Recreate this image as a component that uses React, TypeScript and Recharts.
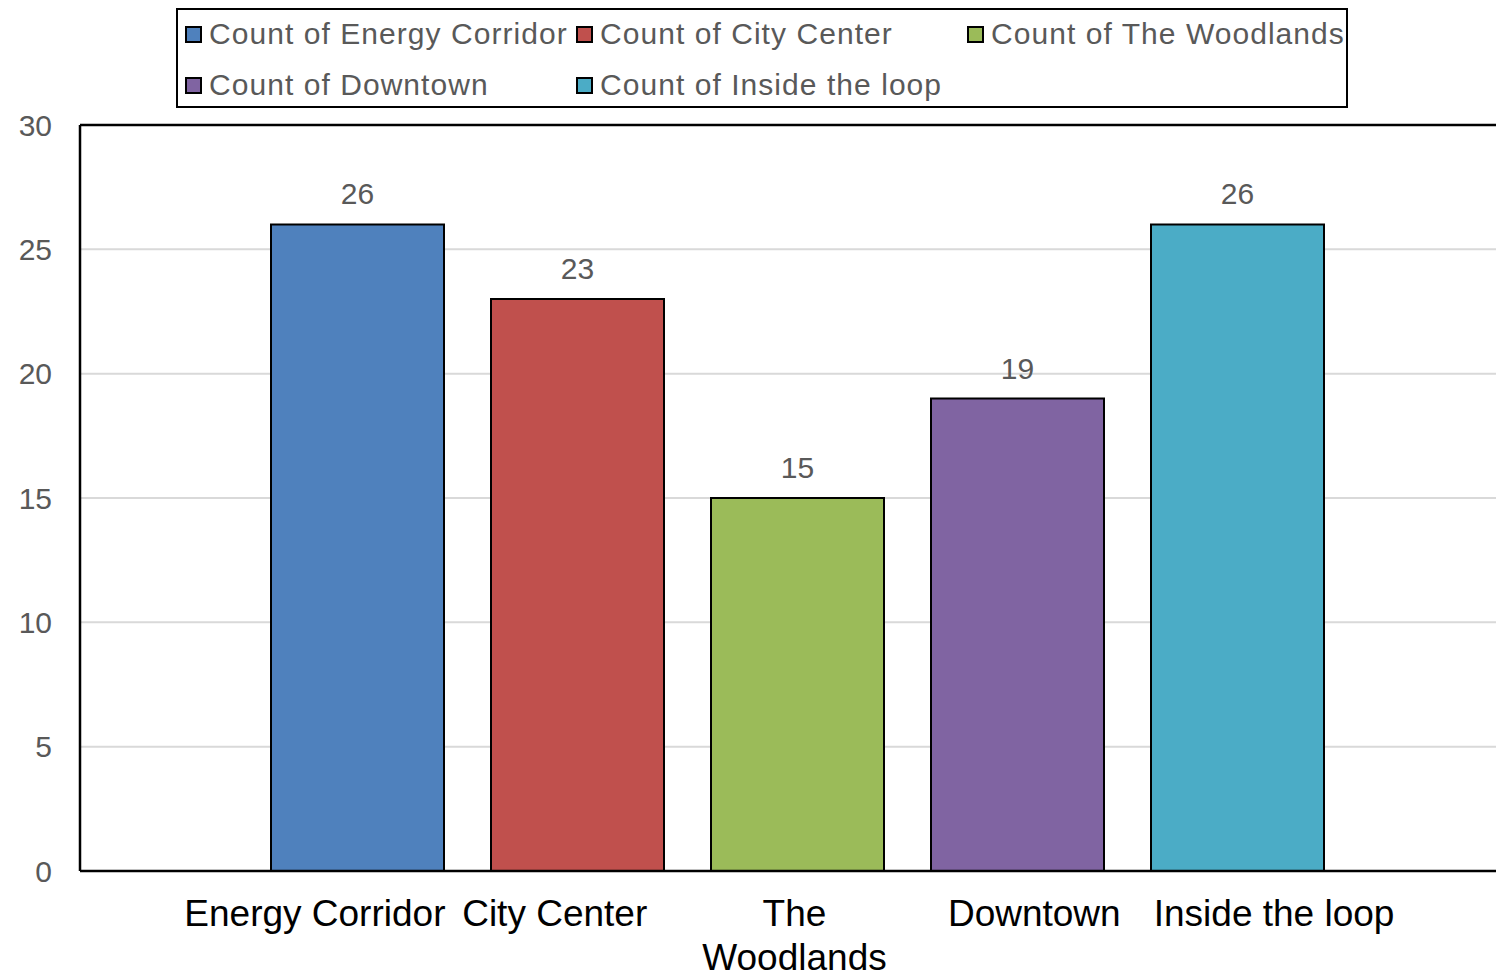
import { Bar, BarChart, CartesianGrid, Cell, LabelList, ReferenceLine, XAxis, YAxis } from "recharts";

const categories = ["Energy Corridor", "City Center", "The Woodlands", "Downtown", "Inside the loop"];
const counts = [26, 23, 15, 19, 26];
const seriesNames = [
  "Count of Energy Corridor",
  "Count of City Center",
  "Count of The Woodlands",
  "Count of Downtown",
  "Count of Inside the loop"
];
const colors = ["#4f81bd", "#c0504d", "#9bbb59", "#8064a2", "#4bacc6"];
const yTicks = [0, 5, 10, 15, 20, 25, 30];
// how each category label wraps under the axis
const tickLabelLines = [["Energy Corridor"], ["City Center"], ["The", "Woodlands"], ["Downtown"], ["Inside the loop"]];

const data = categories.map((name, i) => ({ name, count: counts[i] }));

const FONT = "'Liberation Sans', Arial, sans-serif";
const GRAY = "#595959";

function CategoryTick({ x, y, payload }: { x: number; y: number; payload: { value: string } }) {
  const idx = categories.indexOf(payload.value);
  const lines = tickLabelLines[idx] ?? [payload.value];
  return (
    <text x={x} y={y + 55} textAnchor="middle" fontSize={37} fontFamily={FONT} fill="#000">
      {lines.map((line, i) => (
        <tspan key={i} x={x} dy={i === 0 ? 0 : 44}>
          {line}
        </tspan>
      ))}
    </text>
  );
}

function LegendBox() {
  return (
    <div
      style={{
        position: "absolute",
        left: 176,
        top: 8,
        width: 1172,
        height: 100,
        border: "2px solid #000",
        boxSizing: "border-box",
        background: "#fff",
        fontFamily: FONT,
        fontSize: 30,
        letterSpacing: 1.05,
        color: GRAY
      }}
    >
      <div style={{ marginTop: -2, marginLeft: 7, display: "grid", gridTemplateColumns: "391px 391px 391px" }}>
        {seriesNames.map((name, i) => (
          <div key={name} style={{ display: "flex", alignItems: "center", height: 51, whiteSpace: "nowrap" }}>
            <span
              style={{
                display: "inline-block",
                width: 17,
                height: 17,
                boxSizing: "border-box",
                border: "2px solid #000",
                background: colors[i],
                marginRight: 7,
                position: "relative",
                top: 1
              }}
            />
            <span>{name}</span>
          </div>
        ))}
      </div>
    </div>
  );
}

export default function App() {
  return (
    <div style={{ position: "relative", width: 1496, height: 973, overflow: "hidden", background: "#fff" }}>
      <style>{`body{margin:0;overflow:hidden;}`}</style>
      <BarChart width={1530} height={973} data={data} margin={{ top: 125, right: 16, left: 0, bottom: 0 }}>
        <CartesianGrid xAxisId="bars" vertical={false} stroke="#d9d9d9" strokeWidth={2} />
        <XAxis xAxisId="bars" dataKey="name" type="category" hide height={0} padding={{ left: 167, right: 167 }} />
        <XAxis
          xAxisId="labels"
          dataKey="name"
          type="category"
          height={102}
          padding={{ left: 115, right: 120 }}
          axisLine={{ stroke: "#000", strokeWidth: 2.5 }}
          tickLine={false}
          tickSize={0}
          tickMargin={0}
          interval={0}
          tick={(props: any) => <CategoryTick {...props} />}
        />
        <YAxis
          domain={[0, 30]}
          ticks={yTicks}
          width={80}
          interval={0}
          axisLine={{ stroke: "#000", strokeWidth: 2.5 }}
          tickLine={false}
          tickSize={0}
          tickMargin={28}
          tick={{ fill: GRAY, fontSize: 30, fontFamily: FONT }}
        />
        <ReferenceLine xAxisId="bars" y={30} stroke="#000" strokeWidth={2.5} />
        <Bar xAxisId="bars" dataKey="count" barSize={173} stroke="#000" strokeWidth={2} isAnimationActive={false}>
          {data.map((d, i) => (
            <Cell key={d.name} fill={colors[i]} />
          ))}
          <LabelList dataKey="count" position="top" offset={20} fill={GRAY} fontSize={30} fontFamily={FONT} />
        </Bar>
      </BarChart>
      <LegendBox />
    </div>
  );
}
